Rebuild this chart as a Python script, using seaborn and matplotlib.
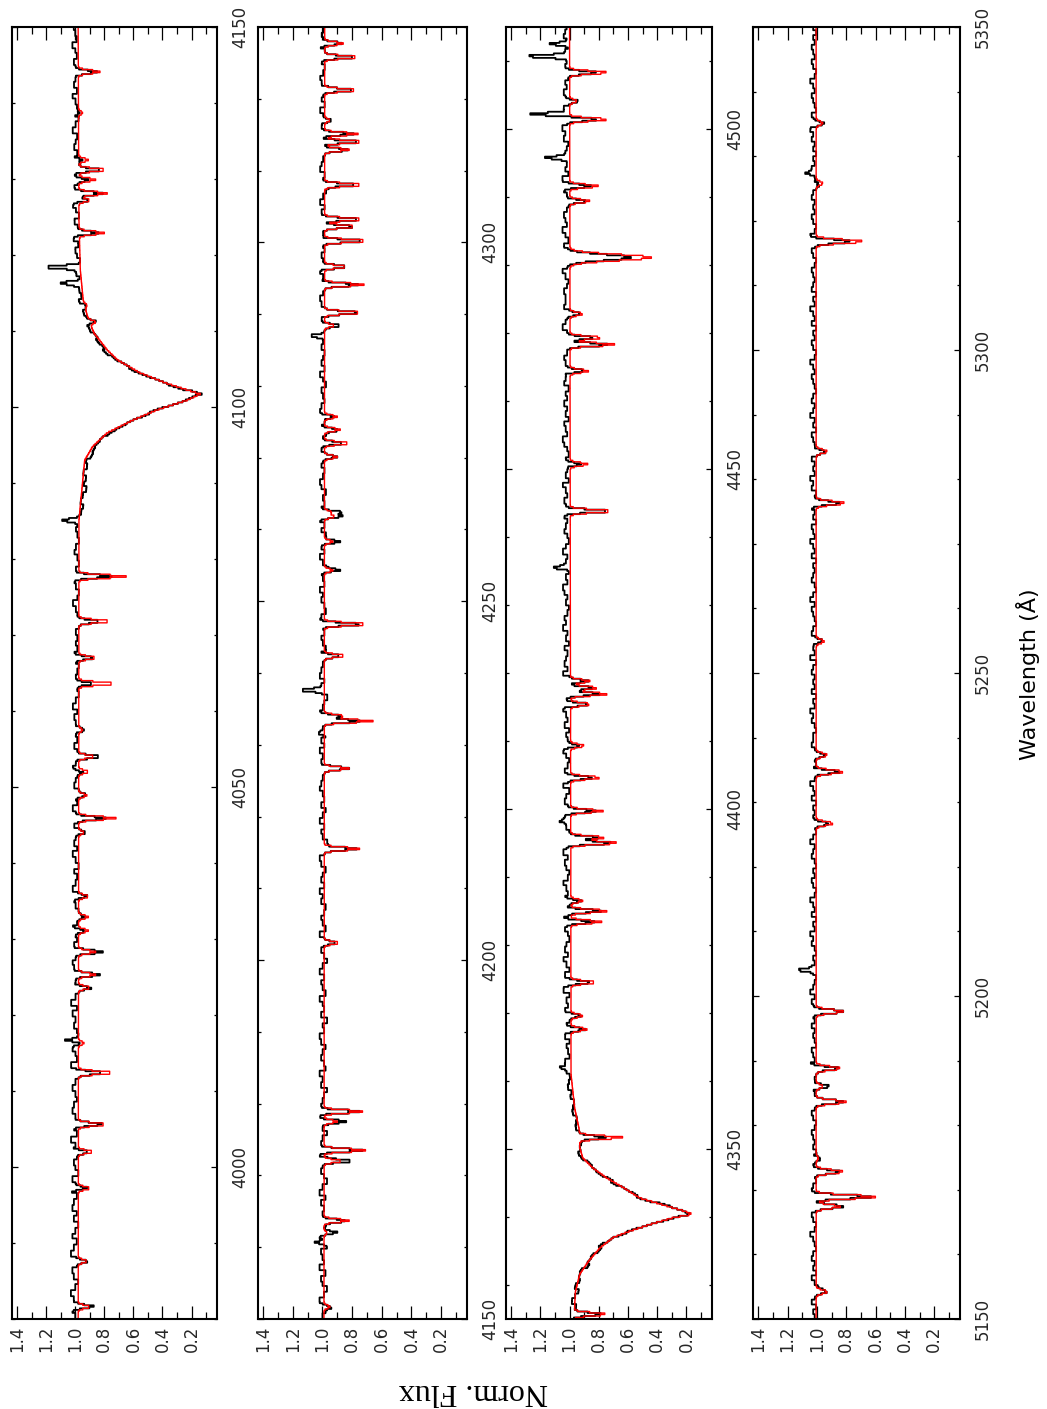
import numpy as np
import pandas as pd
import matplotlib
matplotlib.use("Agg")
import matplotlib.pyplot as plt
from matplotlib.ticker import MultipleLocator, FixedLocator
import seaborn as sns

sns.set_theme(style="ticks")
plt.rcParams["font.family"] = ["DejaVu Sans"]

# ---------------- data ----------------
# panel wavelength ranges (Angstrom)
p1_range = (3980, 4150)
p2_range = (4150, 4330)
p3_range = (4325, 4515)
p4_range = (5150, 5350)

# continuum / Balmer-wing profile knots (model)
p1_cont_wave = [3980, 4085, 4089, 4093, 4094.8, 4096.6, 4098.3, 4099.6, 4100.9, 4101.7,
                4103.1, 4104.5, 4106.2, 4107.5, 4109.7, 4111.5, 4114, 4118, 4125, 4150]
p1_cont_flux = [0.98, 0.975, 0.955, 0.935, 0.88, 0.78, 0.60, 0.44, 0.23, 0.14,
                0.37, 0.555, 0.71, 0.78, 0.87, 0.91, 0.945, 0.965, 0.975, 0.98]
p2_cont_wave = [4150, 4330]
p2_cont_flux = [0.99, 0.985]
p3_cont_wave = [4325, 4329, 4331.6, 4333.5, 4335.5, 4337.0, 4337.9, 4338.9, 4339.9, 4340.4,
                4340.9, 4341.9, 4342.8, 4344.3, 4345.8, 4347.2, 4348.7, 4350.2, 4353.0, 4356.0,
                4361.0, 4515]
p3_cont_flux = [0.97, 0.96, 0.93, 0.87, 0.79, 0.70, 0.59, 0.45, 0.29, 0.155,
                0.22, 0.38, 0.52, 0.63, 0.75, 0.84, 0.91, 0.93, 0.935, 0.965,
                0.99, 1.0]
p4_cont_wave = [5150, 5350]
p4_cont_flux = [1.005, 1.005]

# narrow absorption lines: centre, model (red) minimum, observed (black) minimum
p1_line_wave = [3981.6, 3987.6, 3997.2, 4002.0, 4005.6, 4012.4, 4016.3, 4023.6, 4025.3, 4028.3,
                4031.1, 4032.9, 4035.6, 4044.0, 4045.9, 4048.9, 4052.0, 4054.0, 4057.5, 4063.6,
                4067.0, 4071.8, 4077.7, 4111.2, 4113.4, 4122.9, 4127.2, 4128.1, 4129.9, 4131.2,
                4132.5, 4138.7, 4144.1]
p1_red_min = [0.90, 0.92, 0.90, 0.88, 0.79, 0.74, 0.94, 0.90, 0.86, 0.86,
              0.91, 0.91, 0.91, 0.94, 0.72, 0.92, 0.91, 0.87, 0.95, 0.73,
              0.86, 0.76, 0.65, 0.86, 0.92, 0.80, 0.90, 0.78, 0.86, 0.79,
              0.91, 0.95, 0.83]
p1_black_min = [0.85, 0.90, 0.89, 0.87, 0.80, 0.78, 0.93, 0.88, 0.82, 0.81,
                0.90, 0.90, 0.90, 0.93, 0.78, 0.91, 0.93, 0.83, 0.94, 0.85,
                0.85, 0.80, 0.74, 0.84, 0.93, 0.82, 0.90, 0.79, 0.90, 0.80,
                0.91, 0.94, 0.85]

p2_line_wave = [4151.7, 4162.0, 4163.7, 4172.0, 4173.5, 4177.5, 4178.9, 4202.4, 4215.5, 4226.7,
                4233.3, 4234.0, 4242.4, 4246.8, 4254.3, 4258.3, 4261.8, 4262.4, 4270.1, 4272.0,
                4273.9, 4275.7, 4288.4, 4290.2, 4294.1, 4296.6, 4300.2, 4302.2, 4303.2, 4308.0,
                4312.9, 4314.0, 4315.1, 4317.0, 4321.2, 4325.8, 4327.7]
p2_red_min = [0.95, 0.97, 0.82, 0.87, 0.71, 0.90, 0.73, 0.89, 0.75, 0.82,
              0.66, 0.86, 0.85, 0.70, 0.93, 0.93, 0.92, 0.94, 0.90, 0.82,
              0.88, 0.90, 0.92, 0.74, 0.72, 0.84, 0.70, 0.78, 0.73, 0.73,
              0.82, 0.73, 0.76, 0.95, 0.77, 0.76, 0.86]
p2_black_min = [0.93, 0.89, 0.83, 0.81, 0.73, 0.84, 0.76, 0.90, 0.76, 0.83,
                0.73, 0.85, 0.85, 0.72, 0.89, 0.87, 0.85, 0.86, 0.90, 0.83,
                0.88, 0.91, 0.87, 0.76, 0.74, 0.85, 0.69, 0.78, 0.74, 0.75,
                0.81, 0.74, 0.78, 0.94, 0.80, 0.77, 0.84]

p3_line_wave = [4325.7, 4351.7, 4367.6, 4369.6, 4374.5, 4383.4, 4385.0, 4386.5, 4395.0, 4395.8,
                4399.7, 4404.6, 4409.3, 4415.4, 4416.9, 4417.8, 4418.8, 4443.8, 4450.7, 4464.4,
                4468.3, 4469.3, 4472.8, 4481.1, 4489.4, 4491.6, 4501.4, 4504.1, 4508.3]
p3_red_min = [0.75, 0.635, 0.88, 0.91, 0.82, 0.78, 0.74, 0.91, 0.67, 0.76,
              0.77, 0.79, 0.90, 0.86, 0.74, 0.81, 0.86, 0.71, 0.875, 0.87,
              0.69, 0.78, 0.91, 0.44, 0.86, 0.80, 0.74, 0.95, 0.74]
p3_black_min = [0.78, 0.74, 0.87, 0.90, 0.83, 0.80, 0.76, 0.91, 0.69, 0.76,
                0.79, 0.81, 0.89, 0.86, 0.75, 0.82, 0.86, 0.72, 0.88, 0.86,
                0.71, 0.79, 0.91, 0.55, 0.86, 0.82, 0.78, 0.93, 0.76]

p4_line_wave = [5154.2, 5167.4, 5168.9, 5172.8, 5174.9, 5183.6, 5186.0, 5188.8, 5197.6, 5226.7,
                5234.7, 5237.3, 5254.9, 5276.3, 5284.3, 5316.8, 5325.8, 5335.1]
p4_red_min = [0.93, 0.84, 0.60, 0.82, 0.99, 0.80, 0.96, 0.84, 0.82, 0.89,
              0.82, 0.93, 0.95, 0.81, 0.93, 0.685, 0.96, 0.96]
p4_black_min = [0.91, 0.82, 0.62, 0.80, 0.95, 0.80, 0.89, 0.83, 0.82, 0.89,
                0.82, 0.92, 0.94, 0.82, 0.93, 0.75, 0.95, 0.94]

# broad metal line (Mg II 4481) width
broad_line_wave = [4481.1]
broad_line_sigma = [0.45]

# emission spikes seen only in the observed (black) spectrum
p1_emis_wave = [4016.7, 4085.1, 4116.3, 4118.4]
p1_emis_peak = [1.05, 1.09, 1.06, 1.19]
p2_emis_wave = [4160.6, 4231.6, 4237.6, 4287.0]
p2_emis_peak = [1.05, 1.04, 1.14, 1.05]
p3_emis_wave = [4362.0, 4398.2, 4435.5, 4495.8, 4502.2, 4510.7, 4512.5]
p3_emis_peak = [1.05, 1.05, 1.07, 1.13, 1.25, 1.26, 1.12]
p4_emis_wave = [5204.0, 5327.4]
p4_emis_peak = [1.11, 1.06]

# observed-minus-model residuals, in hundredths, one value per 0.75 A from panel start
p1_resid = [2,4,1,3,5,2,0,3,4,1,2,5,3,1,4,2,0,3,1,4,
            3,1,5,2,4,0,2,3,1,4,2,5,1,3,0,2,4,3,1,2,
            4,2,0,3,5,1,2,4,3,0,1,3,2,4,1,5,2,0,3,2,
            1,3,4,2,0,3,1,2,4,1,3,0,2,3,1,4,2,1,3,0,
            2,4,1,3,2,0,3,1,2,4,1,2,0,3,2,1,4,2,0,1,
            3,1,2,0,2,3,1,4,2,0,1,3,2,1,0,2,3,1,2,1,
            2,0,3,1,2,4,1,0,2,3,1,2,0,1,3,2,0,1,2,1,
            0,-1,-2,0,-1,-3,-1,-2,0,-2,-1,-3,-2,-1,0,-2,-1,0,-1,1,
            0,1,-1,2,0,1,2,0,1,3,1,2,0,2,3,1,2,0,3,1,
            2,4,1,3,2,0,2,3,1,4,2,1,3,0,2,4,1,2,3,1,
            3,2,0,4,1,3,2,1,4,2,0,3,1,2,4,1,3,2,0,2,
            3,1,2,4,1,2,3]
p2_resid = [1,-1,2,3,0,-2,1,2,-1,3,0,1,2,-2,1,3,0,-1,2,1,
            0,2,-1,3,1,-2,0,2,1,-1,3,0,2,1,-2,1,0,3,-1,2,
            1,0,-2,2,1,3,-1,0,2,1,-1,2,3,0,1,-2,2,0,1,3,
            -1,1,2,0,3,1,-2,0,2,1,0,3,-1,1,2,0,-1,2,1,3,
            0,2,1,-1,2,3,0,1,-2,1,2,0,3,1,-1,2,0,1,3,2,
            1,0,-1,2,1,3,0,2,-1,1,0,2,3,1,0,-2,1,2,0,3,
            2,1,0,3,-1,1,2,0,1,3,2,-1,0,2,1,3,0,1,2,-1,
            1,3,0,2,1,-1,2,0,3,1,2,0,1,-1,2,3,1,0,2,1,
            0,2,3,1,-1,2,0,1,3,2,0,1,2,-1,1,3,0,2,1,0,
            2,1,3,0,1,2,-1,0,2,3,1,0,2,1,3,-1,1,2,0,1,
            3,1,0,2,1,2,0,3,1,-1,2,1,0,3,2,1,0,2,1,3,
            1,2,0,1,3,0,2,1,-1,2,3,1,0,2,1,0,3,1,2,1]
p3_resid = [1,0,-1,2,0,-2,1,-1,0,1,-2,0,1,-1,2,0,-1,1,0,-1,
            1,0,-2,1,-1,0,2,-1,1,0,-1,1,2,0,-1,1,0,2,1,0,
            2,1,0,2,1,3,2,1,3,2,4,1,2,3,1,4,2,3,1,2,
            4,2,3,1,5,3,2,4,1,3,5,2,4,3,1,2,4,3,5,2,
            3,1,4,2,3,5,2,1,3,4,2,5,3,2,4,1,3,2,4,3,
            2,4,3,1,5,2,3,4,2,1,3,5,4,2,3,1,4,2,3,5,
            1,3,4,2,3,1,5,2,4,3,2,4,1,3,2,5,3,4,2,1,
            3,2,4,5,2,3,1,4,3,2,5,3,1,2,4,3,2,4,1,3,
            4,2,3,5,1,3,2,4,3,1,2,4,5,2,3,4,1,3,2,4,
            2,3,1,4,3,5,2,3,4,2,1,3,4,2,5,3,2,1,4,3,
            3,4,2,1,3,5,2,4,3,2,4,1,3,5,2,3,4,2,1,3,
            2,4,3,5,1,3,2,4,3,2,1,4,3,5,2,3,2,4,1,3,
            4,2,3,1,5,3,2,4,3,1,2,4,3,2]
p4_resid = [1,2,0,3,1,2,-1,1,3,0,2,1,3,2,0,1,2,4,1,0,
            2,3,1,0,2,1,3,2,0,1,4,2,1,3,0,2,1,2,3,1,
            0,2,3,1,2,0,1,3,2,1,0,2,4,1,2,3,0,1,2,1,
            3,1,2,0,2,3,1,4,2,1,0,2,3,1,2,0,1,3,2,4,
            1,2,0,3,1,2,4,1,0,2,3,1,2,0,1,3,2,1,4,2,
            0,1,3,2,1,2,0,3,1,2,4,1,2,3,0,1,2,1,3,2,
            2,0,1,3,2,4,1,2,0,3,1,2,1,3,2,0,4,1,2,3,
            1,3,2,0,1,2,3,1,4,2,0,1,3,2,1,2,0,3,1,2,
            4,1,2,3,0,2,1,3,2,1,0,3,2,4,1,2,1,3,0,2,
            1,2,3,0,2,1,4,2,1,3,2,0,1,2,3,1,2,4,1,0,
            2,3,1,2,0,3,1,2,4,1,2,0,3,2,1,2,3,1,0,2,
            3,1,2,4,1,0,2,3,1,2,1,3,2,0,4,1,2,3,1,2,
            0,2,1,3,2,4,1,2,3,0,1,2,3,1,2,4,1,0,2,3,
            1,2,3,1,2,0,2]
resid_spacing = 0.75

flux_ticks = [1.4, 1.2, 1.0, 0.8, 0.6, 0.4, 0.2]
flux_tick_labels = ["1.4", "1.2", "1.0", "0.8", "0.6", "0.4", "0.2"]
p1_wave_ticks = [4000, 4050, 4100, 4150]
p2_wave_ticks = [4150, 4200, 4250, 4300]
p3_wave_ticks = [4350, 4400, 4450, 4500]
p4_wave_ticks = [5150, 5200, 5250, 5300, 5350]

x_label = "Wavelength (Å)"
y_label = "Norm. Flux"

panels = [
    dict(rng=p1_range, cw=p1_cont_wave, cf=p1_cont_flux, lw=p1_line_wave, rmin=p1_red_min,
         bmin=p1_black_min, ew=p1_emis_wave, ep=p1_emis_peak, res=p1_resid, ticks=p1_wave_ticks),
    dict(rng=p2_range, cw=p2_cont_wave, cf=p2_cont_flux, lw=p2_line_wave, rmin=p2_red_min,
         bmin=p2_black_min, ew=p2_emis_wave, ep=p2_emis_peak, res=p2_resid, ticks=p2_wave_ticks),
    dict(rng=p3_range, cw=p3_cont_wave, cf=p3_cont_flux, lw=p3_line_wave, rmin=p3_red_min,
         bmin=p3_black_min, ew=p3_emis_wave, ep=p3_emis_peak, res=p3_resid, ticks=p3_wave_ticks),
    dict(rng=p4_range, cw=p4_cont_wave, cf=p4_cont_flux, lw=p4_line_wave, rmin=p4_red_min,
         bmin=p4_black_min, ew=p4_emis_wave, ep=p4_emis_peak, res=p4_resid, ticks=p4_wave_ticks),
]
line_sigma = [0.22, 0.22, 0.24, 0.3]   # rendering width of narrow lines per panel (A)
bin_step = [0.2, 0.2, 0.22, 0.25]      # rendering bin per panel (A)


def render(grid, p, mins, sig, observed):
    base = np.interp(grid, p["cw"], p["cf"])
    f = base.copy()
    for c, m in zip(p["lw"], mins):
        s = sig
        for bw, bs in zip(broad_line_wave, broad_line_sigma):
            if abs(bw - c) < 0.05:
                s = bs
        d = np.interp(c, p["cw"], p["cf"]) - m
        f -= d * np.exp(-0.5 * ((grid - c) / s) ** 2)
    if observed:
        for c, pk in zip(p["ew"], p["ep"]):
            h = pk - np.interp(c, p["cw"], p["cf"])
            f += h * np.exp(-0.5 * ((grid - c) / 0.2) ** 2)
        idx = np.clip(((grid - p["rng"][0]) / resid_spacing).astype(int), 0, len(p["res"]) - 1)
        f += np.asarray(p["res"], dtype=float)[idx] / 100.0
    return f


W, H = 1047, 1409
boxes = [(12, 217), (258, 467), (506, 712), (753, 960)]
top_px, bot_px = 27, 1319

fig = plt.figure(figsize=(W / 100, H / 100), dpi=100)
fig.patch.set_facecolor("white")

for p, (x0, x1), sig, step in zip(panels, boxes, line_sigma, bin_step):
    ax = fig.add_axes([x0 / W, 1 - bot_px / H, (x1 - x0) / W, (bot_px - top_px) / H])
    ax.set_facecolor("white")
    lo, hi = p["rng"]
    grid = np.arange(lo + step / 2, hi, step)

    red = render(grid, p, p["rmin"], sig, False)
    blk = render(grid, p, p["bmin"], sig, True)

    # histogram-style steps along the wavelength axis
    yy = np.column_stack([grid - step / 2, grid + step / 2]).ravel()
    obs_df = pd.DataFrame({"wave": yy, "flux": np.repeat(blk, 2)})
    mod_df = pd.DataFrame({"wave": yy, "flux": np.repeat(red, 2)})
    sns.lineplot(data=obs_df, x="flux", y="wave", sort=False, estimator=None,
                 color="black", lw=1.3, ax=ax, legend=False)
    sns.lineplot(data=mod_df, x="flux", y="wave", sort=False, estimator=None,
                 color="#ff0000", lw=1.0, ax=ax, legend=False)

    ax.set_xlim(1.435, 0.025)
    ax.set_ylim(lo, hi)
    ax.set_xlabel("")
    ax.set_ylabel("")

    ax.xaxis.set_major_locator(FixedLocator(flux_ticks))
    ax.set_xticklabels(flux_tick_labels, rotation=90, va="top", ha="center")
    ax.xaxis.set_minor_locator(MultipleLocator(0.1))
    ax.tick_params(axis="x", which="both", direction="in", bottom=True, top=True,
                   labelbottom=True, labeltop=False, labelsize=12, pad=5, width=0.9, color="black")
    ax.tick_params(axis="x", which="major", length=9.5)
    ax.tick_params(axis="x", which="minor", length=5)

    ax.yaxis.set_major_locator(FixedLocator(p["ticks"]))
    ax.set_yticklabels([str(t) for t in p["ticks"]], rotation=90, va="center", ha="left")
    ax.yaxis.set_minor_locator(MultipleLocator(10))
    ax.tick_params(axis="y", which="both", direction="in", left=True, right=True,
                   labelleft=False, labelright=True, labelsize=12, pad=10, width=0.9, color="black")
    ax.tick_params(axis="y", which="major", length=4)
    ax.tick_params(axis="y", which="minor", length=2.5)

    for sp in ax.spines.values():
        sp.set_visible(True)
        sp.set_linewidth(1.5)
        sp.set_color("black")

fig.text(1028 / W, 1 - 674.5 / H, x_label, rotation=90, ha="center", va="center",
         fontsize=16, color="black")
fig.text(473.5 / W, 1 - 1392 / H, y_label, rotation=180, ha="center", va="center",
         fontsize=23, color="black", family=["Liberation Serif", "DejaVu Serif"])

fig.savefig("out.png", dpi=100, facecolor="white")
